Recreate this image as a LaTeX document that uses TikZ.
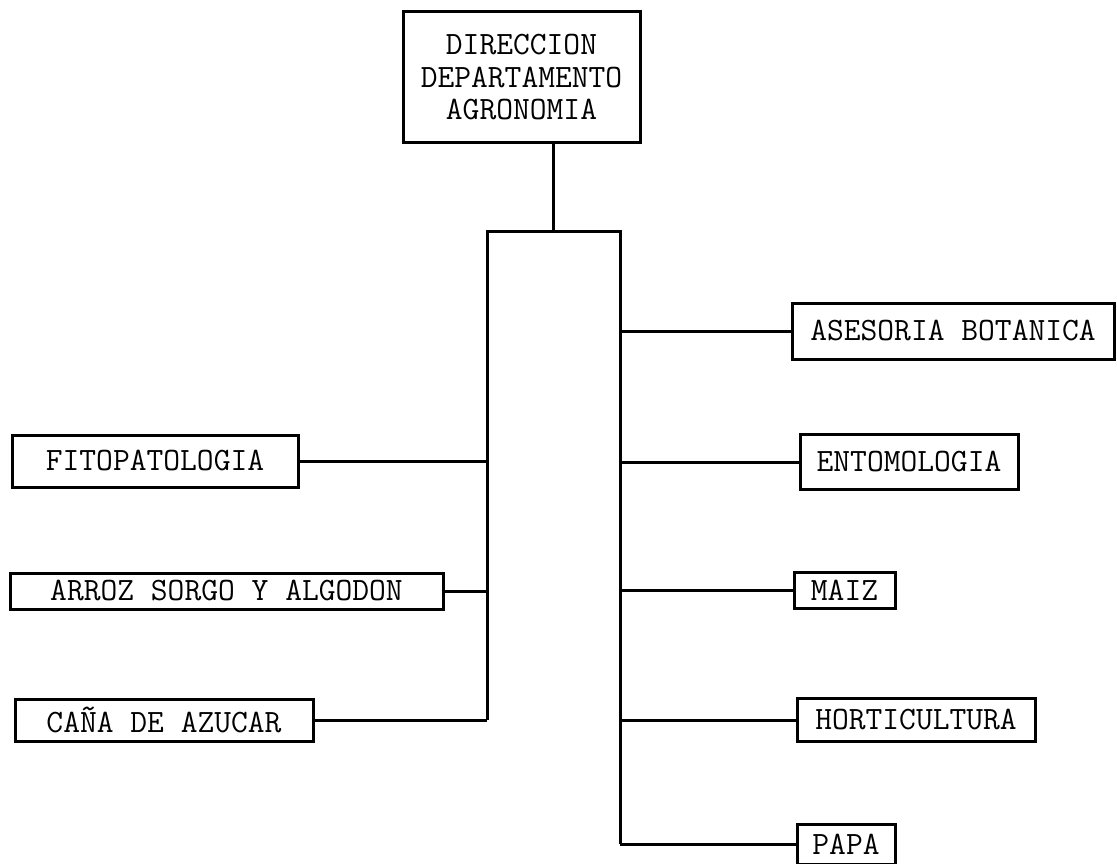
\documentclass[tikz,border=0pt]{standalone}
\usepackage{tikz}
\usetikzlibrary{calc}
\tikzset{unit/.style={draw, line width=3pt, inner sep=0pt, align=center, font=\ttfamily\fontsize{32.6}{32.5}\selectfont}}
\tikzset{branch/.style={line width=3pt, line join=miter}}

\begin{document}
\begin{tikzpicture}[x=1pt,y=-1pt]
    \useasboundingbox (0,0) rectangle (1117,864);
    \node[unit, minimum width=237pt, minimum height=131pt] (dir) at (521.5,77.5) {DIRECCION\\DEPARTAMENTO\\AGRONOMIA};
    \foreach \x/\y/\w/\h/\lab/\tx in {
      155/461/286/52/fito/FITOPATOLOGIA,
      226.5/591/433/36/arroz/ARROZ SORGO Y ALGODON,
      164/720/298/42/cana/CAÑA DE AZUCAR,
      953/331/322/56/ases/ASESORIA BOTANICA,
      909/462/218/55/ento/ENTOMOLOGIA,
      844.5/590/101/36/maiz/MAIZ,
      916/720/238/43/hort/HORTICULTURA,
      846/844/98/40/papa/PAPA%
    } {
      \node[unit, minimum width=\w pt, minimum height=\h pt] (\lab) at (\x, \y) {\tx};
    }
    \coordinate (jt) at (553,231);
    \coordinate (lt) at (487,231);
    \coordinate (lb) at (487,720);
    \coordinate (rt) at (620,231);
    \coordinate (rb) at (620,844);
    \draw[branch] (dir.south -| jt) -- (jt);
    \draw[branch] (lb) -- (lt) -- (rt) -- (rb);
    \foreach \lab in {fito, arroz, cana} {
      \draw[branch] (\lab.east) -- (\lab.east -| lb);
    }
    \foreach \lab in {ases, ento, maiz, hort, papa} {
      \draw[branch] (\lab.west -| rb) -- (\lab.west);
    }
\end{tikzpicture}
\end{document}
